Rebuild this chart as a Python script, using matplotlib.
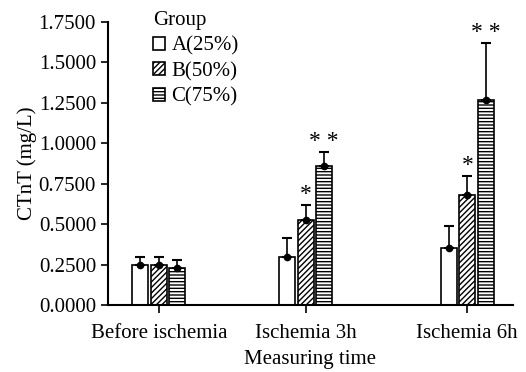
import matplotlib.pyplot as plt
import numpy as np

plt.rcParams['font.family'] = ['Liberation Serif', 'DejaVu Serif']
plt.rcParams['hatch.linewidth'] = 1.0

times = ["Before ischemia", "Ischemia 3h", "Ischemia 6h"]
groups = ["A(25%)", "B(50%)", "C(75%)"]

mean_a = [0.247, 0.300, 0.350]
mean_b = [0.245, 0.525, 0.680]
mean_c = [0.230, 0.860, 1.270]

err_a = [0.053, 0.115, 0.140]
err_b = [0.055, 0.095, 0.120]
err_c = [0.050, 0.085, 0.350]

sig_a = ["", "", ""]
sig_b = ["", "*", "*"]
sig_c = ["", "* *", "* *"]

x = np.array([0, 1, 2.1])
width = 0.11
step = 0.126

fig = plt.figure(figsize=(5.26, 3.72), dpi=100)
ax = fig.add_axes([0.205, 0.18, 0.77, 0.761])

series = [(mean_a, err_a, sig_a, None), (mean_b, err_b, sig_b, '//////'), (mean_c, err_c, sig_c, '-----')]
for i, (m, e, s, h) in enumerate(series):
    pos = x + (i - 1) * step
    ax.bar(pos, m, width, facecolor='white', edgecolor='black', hatch=h,
           linewidth=1.2, label=groups[i])
    ax.errorbar(pos, m, yerr=[np.zeros(3), e], fmt='o', color='black',
                markersize=4.5, capsize=3.5, elinewidth=1.2, capthick=1.5)
    for xi, mi, ei, si in zip(pos, m, e, s):
        if si:
            ax.annotate(si, (xi, mi + ei), xytext=(0, 0), textcoords='offset points',
                        ha='center', va='bottom', fontsize=17)

ax.set_xlim(-0.347, 2.41)
ax.set_ylim(0, 1.75)
ax.set_yticks(np.arange(0, 1.76, 0.25))
ax.yaxis.set_major_formatter(plt.FormatStrFormatter('%.4f'))
ax.set_xticks(x)
ax.set_xticklabels(times)
ax.tick_params(labelsize=15, width=1.2, length=5, direction='out')
ax.tick_params(axis='x', length=6, pad=8)
ax.spines['top'].set_visible(False)
ax.spines['right'].set_visible(False)
ax.spines['left'].set_linewidth(1.5)
ax.spines['bottom'].set_linewidth(1.5)
ax.set_xlabel("Measuring time", fontsize=15, labelpad=5)
ax.set_ylabel("CTnT (mg/L)", fontsize=15, labelpad=1)

leg = ax.legend(title="Group", loc='upper left', bbox_to_anchor=(0.085, 1.075),
                frameon=False, fontsize=15, title_fontsize=15,
                handlelength=0.6, handleheight=0.6, handletextpad=0.3,
                labelspacing=0.3, borderpad=0, alignment='left')

fig.savefig("out.png", dpi=100)
